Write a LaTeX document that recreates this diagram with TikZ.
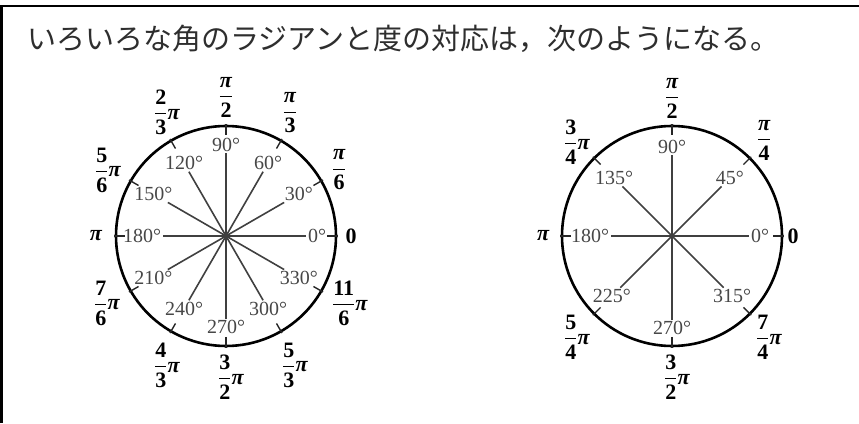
\documentclass[tikz,border=0pt]{standalone}
\usepackage{fix-cm}
\usepackage{amsmath}
\usepackage{fontspec}
\newfontfamily\cjk{Noto Sans CJK JP}
\newfontfamily\pifont{Liberation Serif}
\tikzset{
  frameline/.style={line width=2.6pt, draw=black},
  titletext/.style={font=\cjk\fontsize{29}{29}\selectfont, text=black!82, anchor=base west, inner sep=0pt},
  rad/.style={font=\pifont\fontsize{22}{26}\selectfont\bfseries, inner sep=0pt},
  radpi/.style={rad, anchor=west},
  deg/.style={font=\pifont\fontsize{20}{22}\selectfont, text=black!72, inner sep=1.5pt},
  spoke/.style={line width=1.6pt, draw=black!75},
  rim/.style={line width=2.6pt, draw=black},
  tickmark/.style={line width=1.4pt, draw=black!85},
}
\newcommand{\pp}{\hbox{\pifont\bfseries\itshape π}}
\newcommand{\fr}[2]{\genfrac{}{}{1.3pt}{0}{\hbox{#1}}{\hbox{#2}}}
\begin{document}
\begin{tikzpicture}[x=1pt,y=1pt]
\useasboundingbox (0,0) rectangle (859,423);
\draw[frameline] (1.5,0) -- (1.5,417) -- (859,417);
\node[titletext] (title) at (27,373) {いろいろな角のラジアンと度の対応は，次のようになる。};

% ---------- left circle ----------
\coordinate (c1) at (226,187);
\draw[rim] (c1) circle (110);
\foreach \a/\d in {0/91,30/84,60/84,90/91,120/84,150/84,180/84,210/84,240/84,270/91,300/84,330/84}{
  \node[deg] (La\a) at ([shift={(\a:\d)}]c1) {\a°};
  \draw[spoke] (c1) -- (La\a);
}
\foreach \a in {0,30,...,330}{
  \draw[tickmark] ([shift={(\a:101)}]c1) -- ([shift={(\a:112)}]c1);
}
\node[rad] (Lr0) at (351,187) {0};
\node[rad] (Lr30) at (339,253) {$\fr{\pp}{6}$};
\node[rad] (Lr60) at (290,310) {$\fr{\pp}{3}$};
\node[rad] (Lr90) at (226,326) {$\fr{\pp}{2}$};
\node[radpi] (Lr120) at (154,311) {$\fr{2}{3}\pp$};
\node[radpi] (Lr150) at (95,253) {$\fr{5}{6}\pp$};
\node[rad] (Lr180) at (96,187) {$\pp$};
\node[radpi] (Lr210) at (94,120) {$\fr{7}{6}\pp$};
\node[radpi] (Lr240) at (154,58) {$\fr{4}{3}\pp$};
\node[radpi] (Lr270) at (218,46) {$\fr{3}{2}\pp$};
\node[radpi] (Lr300) at (282,58) {$\fr{5}{3}\pp$};
\node[radpi] (Lr330) at (332,120) {$\fr{11}{6}\pp$};

% ---------- right circle ----------
\coordinate (c2) at (672,187);
\draw[rim] (c2) circle (110);
\foreach \a/\d in {0/88,45/82,90/89,135/82,180/82,225/85,270/92,315/85}{
  \node[deg] (Ra\a) at ([shift={(\a:\d)}]c2) {\a°};
  \draw[spoke] (c2) -- (Ra\a);
}
\foreach \a in {0,45,...,315}{
  \draw[tickmark] ([shift={(\a:101)}]c2) -- ([shift={(\a:112)}]c2);
}
\node[rad] (Rr0) at (793,187) {0};
\node[rad] (Rr45) at (764,283) {$\fr{\pp}{4}$};
\node[rad] (Rr90) at (672,325) {$\fr{\pp}{2}$};
\node[radpi] (Rr135) at (564,281) {$\fr{3}{4}\pp$};
\node[rad] (Rr180) at (543,187) {$\pp$};
\node[radpi] (Rr225) at (564,86) {$\fr{5}{4}\pp$};
\node[radpi] (Rr270) at (664,46) {$\fr{3}{2}\pp$};
\node[radpi] (Rr315) at (756,86) {$\fr{7}{4}\pp$};
\end{tikzpicture}
\end{document}
